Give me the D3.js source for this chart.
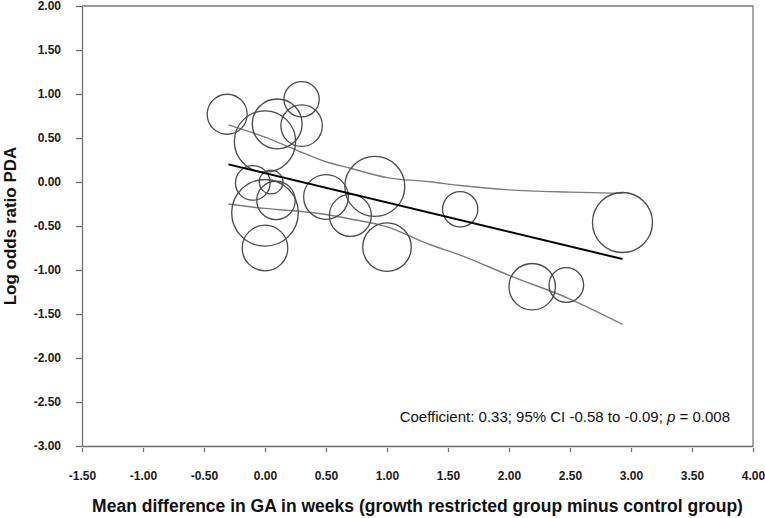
<!DOCTYPE html>
<html>
<head>
<meta charset="utf-8">
<script src="https://cdn.jsdelivr.net/npm/d3@7"></script>
<style>
  body { margin: 0; background: #fff; }
  svg { display: block; font-family: Arial, 'Liberation Sans', sans-serif; }
  .axis path, .axis line { stroke: #6e6e6e; stroke-width: 1.3px; }
  .axis text { font-size: 12px; font-weight: bold; fill: #1a1a1a; }
</style>
</head>
<body>
<script>
// study values: mean GA difference, log odds ratio, weight
const studyGA = [-0.31, 0.30, 0.10, 0.30, 0.00, -0.10, 0.05, 0.09, 0.00, 0.00, 0.50, 0.70, 0.90, 1.00, 1.60, 2.93, 2.19, 2.47];
const studyLOR = [0.77, 0.94, 0.66, 0.64, 0.46, -0.01, 0.00, -0.21, -0.35, -0.75, -0.17, -0.38, -0.05, -0.74, -0.31, -0.46, -1.19, -1.17];
const studyWeight = [4.0, 3.1, 6.2, 4.3, 9.4, 3.0, 1.4, 3.7, 11.1, 5.2, 5.0, 4.4, 9.0, 5.9, 3.1, 9.0, 5.4, 3.0];

// meta-regression line and its confidence band
const fitGA = [-0.30, 2.93];
const fitLOR = [0.20, -0.875];
const bandGA = [-0.30, 0.00, 0.26, 0.50, 0.70, 1.00, 1.35, 1.60, 2.00, 2.50, 2.93];
const bandUpper = [0.65, 0.51, 0.36, 0.23, 0.156, 0.05, 0.003, -0.04, -0.09, -0.115, -0.128];
const bandLower = [-0.25, -0.30, -0.33, -0.37, -0.42, -0.51, -0.71, -0.83, -1.06, -1.33, -1.617];

const xTicks = [-1.5, -1.0, -0.5, 0, 0.5, 1.0, 1.5, 2.0, 2.5, 3.0, 3.5, 4.0];
const yTicks = [2.0, 1.5, 1.0, 0.5, 0, -0.5, -1.0, -1.5, -2.0, -2.5, -3.0];

const annotation = 'Coefficient: 0.33; 95% CI -0.58 to -0.09; ';
const xTitle = 'Mean difference in GA in weeks (growth restricted group minus control group)';
const yTitle = 'Log odds ratio PDA';

const margin = {
  top: 6,
  bottom: 72,
  left: 82,
  right: 12,
};
const width = 765 - margin.left - margin.right;
const height = 518 - margin.top - margin.bottom;

// two decimals with a plain hyphen for negatives
const fmt = d => d3.format('.2f')(d).replace('\u2212', '-');

const svg = d3.select('body').append('svg')
  .attr('width', 765)
  .attr('height', 518);

const g = svg.append('g')
  .attr('transform', `translate(${margin.left},${margin.top})`);

const xscale = d3.scaleLinear().domain([-1.5, 4.0]).range([0, width]);
const yscale = d3.scaleLinear().domain([-3.0, 2.0]).range([height, 0]);
// bubble area follows study weight
const rscale = d3.scaleSqrt().domain([0, 1]).range([0, 10]);

// frame top and right
g.append('path')
  .attr('d', `M0,0H${width}V${height}`)
  .attr('fill', 'none')
  .attr('stroke', '#7a7a7a')
  .attr('stroke-width', 1.3);

// axes
g.append('g')
  .attr('class', 'x axis')
  .attr('transform', `translate(0,${height})`)
  .call(d3.axisBottom(xscale).tickValues(xTicks).tickFormat(fmt)
    .tickSizeInner(5).tickSizeOuter(0).tickPadding(20));

g.append('g')
  .attr('class', 'y axis')
  .call(d3.axisLeft(yscale).tickValues(yTicks).tickFormat(fmt)
    .tickSizeInner(6).tickSizeOuter(0).tickPadding(15));

// x tick marks sit a little below the axis line
g.selectAll('.x.axis .tick line').attr('y1', 2).attr('y2', 6);

// confidence band curves
const line = d3.line()
  .x(d => xscale(d[0]))
  .y(d => yscale(d[1]))
  .curve(d3.curveMonotoneX);

g.append('path')
  .datum(bandGA.map((x, i) => [x, bandUpper[i]]))
  .attr('d', line)
  .attr('fill', 'none')
  .attr('stroke', '#7c7c7c')
  .attr('stroke-width', 1.4);

g.append('path')
  .datum(bandGA.map((x, i) => [x, bandLower[i]]))
  .attr('d', line)
  .attr('fill', 'none')
  .attr('stroke', '#7c7c7c')
  .attr('stroke-width', 1.4);

// bubbles
const studies = studyGA.map((x, i) => ({ x, y: studyLOR[i], w: studyWeight[i] }));
g.selectAll('.study').data(studies).enter().append('circle')
  .attr('class', 'study')
  .attr('cx', d => xscale(d.x))
  .attr('cy', d => yscale(d.y))
  .attr('r', d => rscale(d.w))
  .attr('fill', 'none')
  .attr('stroke', '#4a4a4a')
  .attr('stroke-width', 1.3);

// regression line
g.append('path')
  .datum(fitGA.map((x, i) => [x, fitLOR[i]]))
  .attr('d', d3.line().x(d => xscale(d[0])).y(d => yscale(d[1])))
  .attr('fill', 'none')
  .attr('stroke', '#000')
  .attr('stroke-width', 2);

// annotation
const note = g.append('text')
  .attr('x', 648)
  .attr('y', 416)
  .attr('text-anchor', 'end')
  .style('font-size', '15px')
  .style('fill', '#111');
note.append('tspan').text(annotation);
note.append('tspan').style('font-style', 'italic').text('p');
note.append('tspan').text(' = 0.008');

// axis titles
svg.append('text')
  .attr('x', margin.left + width / 2)
  .attr('y', 512)
  .attr('text-anchor', 'middle')
  .style('font-size', '17.5px')
  .style('font-weight', 'bold')
  .style('fill', '#111')
  .text(xTitle);

svg.append('text')
  .attr('transform', `translate(16,${margin.top + height / 2}) rotate(-90)`)
  .attr('text-anchor', 'middle')
  .style('font-size', '17px')
  .style('font-weight', 'bold')
  .style('fill', '#111')
  .text(yTitle);
</script>
</body>
</html>
